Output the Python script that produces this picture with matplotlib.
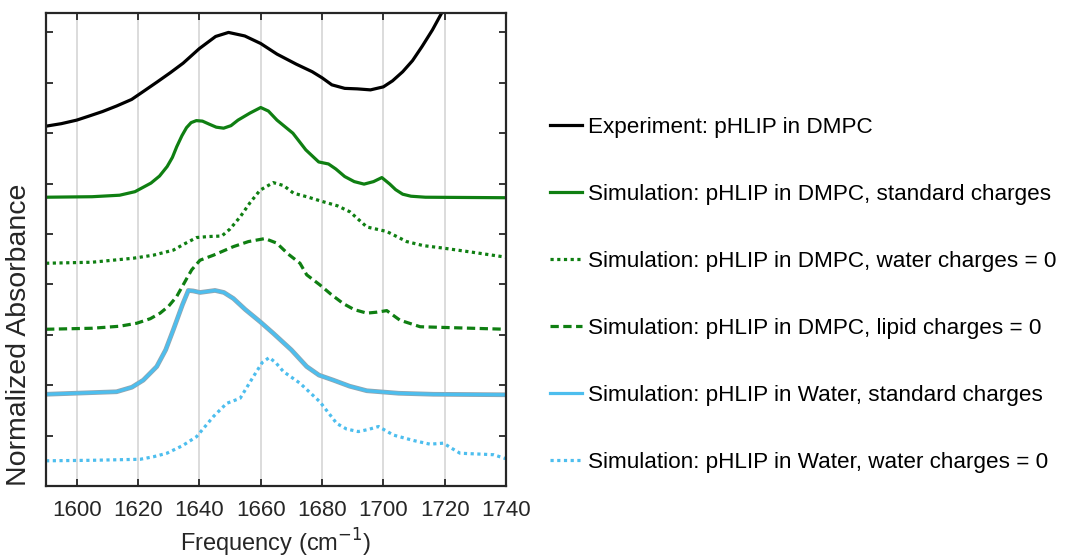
import matplotlib.pyplot as plt

plt.rcParams['font.family'] = ['Liberation Sans', 'DejaVu Sans']

# values (offset units, one y tick per unit)
exp_x = [1590, 1595, 1600, 1604, 1608.4, 1613, 1617.9, 1622, 1626.3, 1630.5, 1634.7, 1640,
         1645.3, 1649.5, 1654.8, 1660, 1665.3, 1671.6, 1676.8, 1680, 1683.2, 1687.4, 1691.5,
         1695.8, 1700, 1703, 1706.3, 1709.5, 1712.6, 1716, 1719.5, 1722]
exp_y = [7.14, 7.19, 7.26, 7.34, 7.43, 7.54, 7.67, 7.84, 8.02, 8.20, 8.39, 8.68,
         8.92, 9.00, 8.93, 8.78, 8.57, 8.37, 8.22, 8.10, 7.96, 7.89, 7.88,
         7.86, 7.92, 8.04, 8.22, 8.44, 8.72, 9.05, 9.44, 9.80]

dmpc_x = [1590, 1605, 1614, 1619, 1624.2, 1627, 1629.5, 1631.2, 1632.6, 1634.3, 1635.8, 1637.3,
          1639, 1641, 1643.2, 1645.5, 1647.9, 1650.3, 1652.6, 1656.5, 1660, 1662.5, 1665.3,
          1670.5, 1674.7, 1678.9, 1682.1, 1684.5, 1687.4, 1690.5, 1693.7, 1696.8, 1699.5,
          1702.1, 1704, 1706.3, 1709, 1713.7, 1740]
dmpc_y = [5.73, 5.74, 5.77, 5.84, 6.01, 6.15, 6.34, 6.52, 6.73, 6.95, 7.11, 7.21,
          7.25, 7.24, 7.18, 7.12, 7.10, 7.15, 7.26, 7.40, 7.51, 7.44, 7.26,
          7.00, 6.67, 6.43, 6.39, 6.29, 6.14, 6.04, 5.99, 6.04, 6.12,
          5.99, 5.88, 5.79, 5.75, 5.73, 5.72]

dmpc_w0_x = [1590, 1605, 1618.5, 1625, 1631.5, 1635, 1639.1, 1643, 1647.3, 1650, 1653.3,
             1656.5, 1659.8, 1664.1, 1667.5, 1670.7, 1675, 1680.4, 1685, 1689.1, 1694.6,
             1701.1, 1707.6, 1713, 1719.6, 1730, 1740]
dmpc_w0_y = [4.42, 4.44, 4.52, 4.58, 4.68, 4.80, 4.93, 4.95, 4.96, 5.10, 5.34,
             5.62, 5.87, 6.02, 5.96, 5.81, 5.74, 5.64, 5.56, 5.44, 5.14,
             5.05, 4.85, 4.77, 4.72, 4.63, 4.54]

dmpc_l0_x = [1590, 1605, 1614, 1619.6, 1624, 1627.2, 1630, 1632.6, 1635.9, 1637.5, 1640.2,
             1644.6, 1651.1, 1656, 1661.4, 1665.2, 1669, 1672.8, 1675, 1679.3, 1683,
             1686.9, 1690.5, 1694.6, 1698, 1701.1, 1705.4, 1712, 1740]
dmpc_l0_y = [3.11, 3.13, 3.17, 3.23, 3.32, 3.43, 3.57, 3.76, 4.12, 4.29, 4.48,
             4.58, 4.75, 4.85, 4.91, 4.82, 4.60, 4.42, 4.19, 3.99, 3.80,
             3.62, 3.50, 3.43, 3.45, 3.48, 3.29, 3.16, 3.11]

wat_x = [1590, 1613, 1618, 1621.7, 1626.1, 1629, 1631.5, 1634.5, 1636.4, 1638, 1640.2,
         1645.1, 1648, 1651.1, 1655, 1659.8, 1664.1, 1670, 1675, 1679, 1683.7, 1689,
         1694.6, 1705, 1716.3, 1740]
wat_y = [1.82, 1.87, 1.96, 2.10, 2.37, 2.70, 3.10, 3.60, 3.88, 3.87, 3.84,
         3.88, 3.84, 3.72, 3.50, 3.26, 3.03, 2.70, 2.37, 2.20, 2.10, 1.98,
         1.89, 1.84, 1.82, 1.81]

wat_w0_x = [1590, 1605, 1620.7, 1625, 1629.4, 1634.5, 1639.1, 1644.6, 1648.9, 1653.3,
            1657.6, 1660.5, 1662.8, 1665, 1667.4, 1672.8, 1679.3, 1684.8, 1688, 1691.8,
            1695, 1698.4, 1703.3, 1710, 1715.2, 1719.6, 1722.5, 1725, 1732.6, 1736,
            1740]
wat_w0_y = [0.50, 0.51, 0.53, 0.58, 0.65, 0.80, 0.98, 1.38, 1.64, 1.74,
            2.17, 2.45, 2.55, 2.44, 2.27, 2.04, 1.67, 1.24, 1.13, 1.08,
            1.12, 1.18, 1.01, 0.90, 0.83, 0.85, 0.74, 0.65, 0.63, 0.62,
            0.54]

labels = ['Experiment: pHLIP in DMPC',
          'Simulation: pHLIP in DMPC, standard charges',
          'Simulation: pHLIP in DMPC, water charges = 0',
          'Simulation: pHLIP in DMPC, lipid charges = 0',
          'Simulation: pHLIP in Water, standard charges',
          'Simulation: pHLIP in Water, water charges = 0']

green = '#0f7f12'
blue = '#4dbeee'
lw = 2.3

fig = plt.figure(figsize=(10.76, 5.59), dpi=100)
ax = fig.add_axes([0.0428, 0.1306, 0.4275, 0.8461])

ax.plot(exp_x, exp_y, color='black', lw=lw, label=labels[0])
ax.plot(dmpc_x, dmpc_y, color=green, lw=lw, label=labels[1])
ax.plot(dmpc_w0_x, dmpc_w0_y, color=green, lw=lw, linestyle=(0, (1, 1.1)), label=labels[2])
ax.plot(dmpc_l0_x, dmpc_l0_y, color=green, lw=lw, linestyle=(0, (2.6, 1.4)), label=labels[3])
# thin grey edge under the water curve
ax.plot(wat_x, wat_y, color='#95a5ae', lw=lw + 1.1)
ax.plot(wat_x, wat_y, color=blue, lw=lw, label=labels[4])
ax.plot(wat_w0_x, wat_w0_y, color=blue, lw=lw, linestyle=(0, (1, 1.1)), label=labels[5])

ax.set_xlim(1590, 1740)
ax.set_ylim(0, 9.385)
ax.set_xticks(range(1600, 1741, 20))
ax.set_yticks(range(0, 10))
ax.set_yticklabels([])
ax.grid(axis='x', color='#d9d9d9', lw=1.3)
ax.set_axisbelow(True)
ax.tick_params(direction='in', length=5, width=1.3, colors='#262626', labelsize=16,
               top=True, right=True, pad=10)
for s in ax.spines.values():
    s.set_linewidth(1.6)
    s.set_color('#262626')

ax.set_xlabel('Frequency (cm$^{-1}$)', fontsize=17, color='#262626', labelpad=4)
ax.set_ylabel('Normalized Absorbance', fontsize=20.5, color='#262626')
ax.yaxis.set_label_coords(-0.03, 0.319)

leg = ax.legend(loc='upper left', bbox_to_anchor=(1.075, 0.8), frameon=False,
                fontsize=16.2, handlelength=1.45, handletextpad=0.25,
                labelspacing=2.05, borderaxespad=0)

fig.savefig('out.png', dpi=100)
